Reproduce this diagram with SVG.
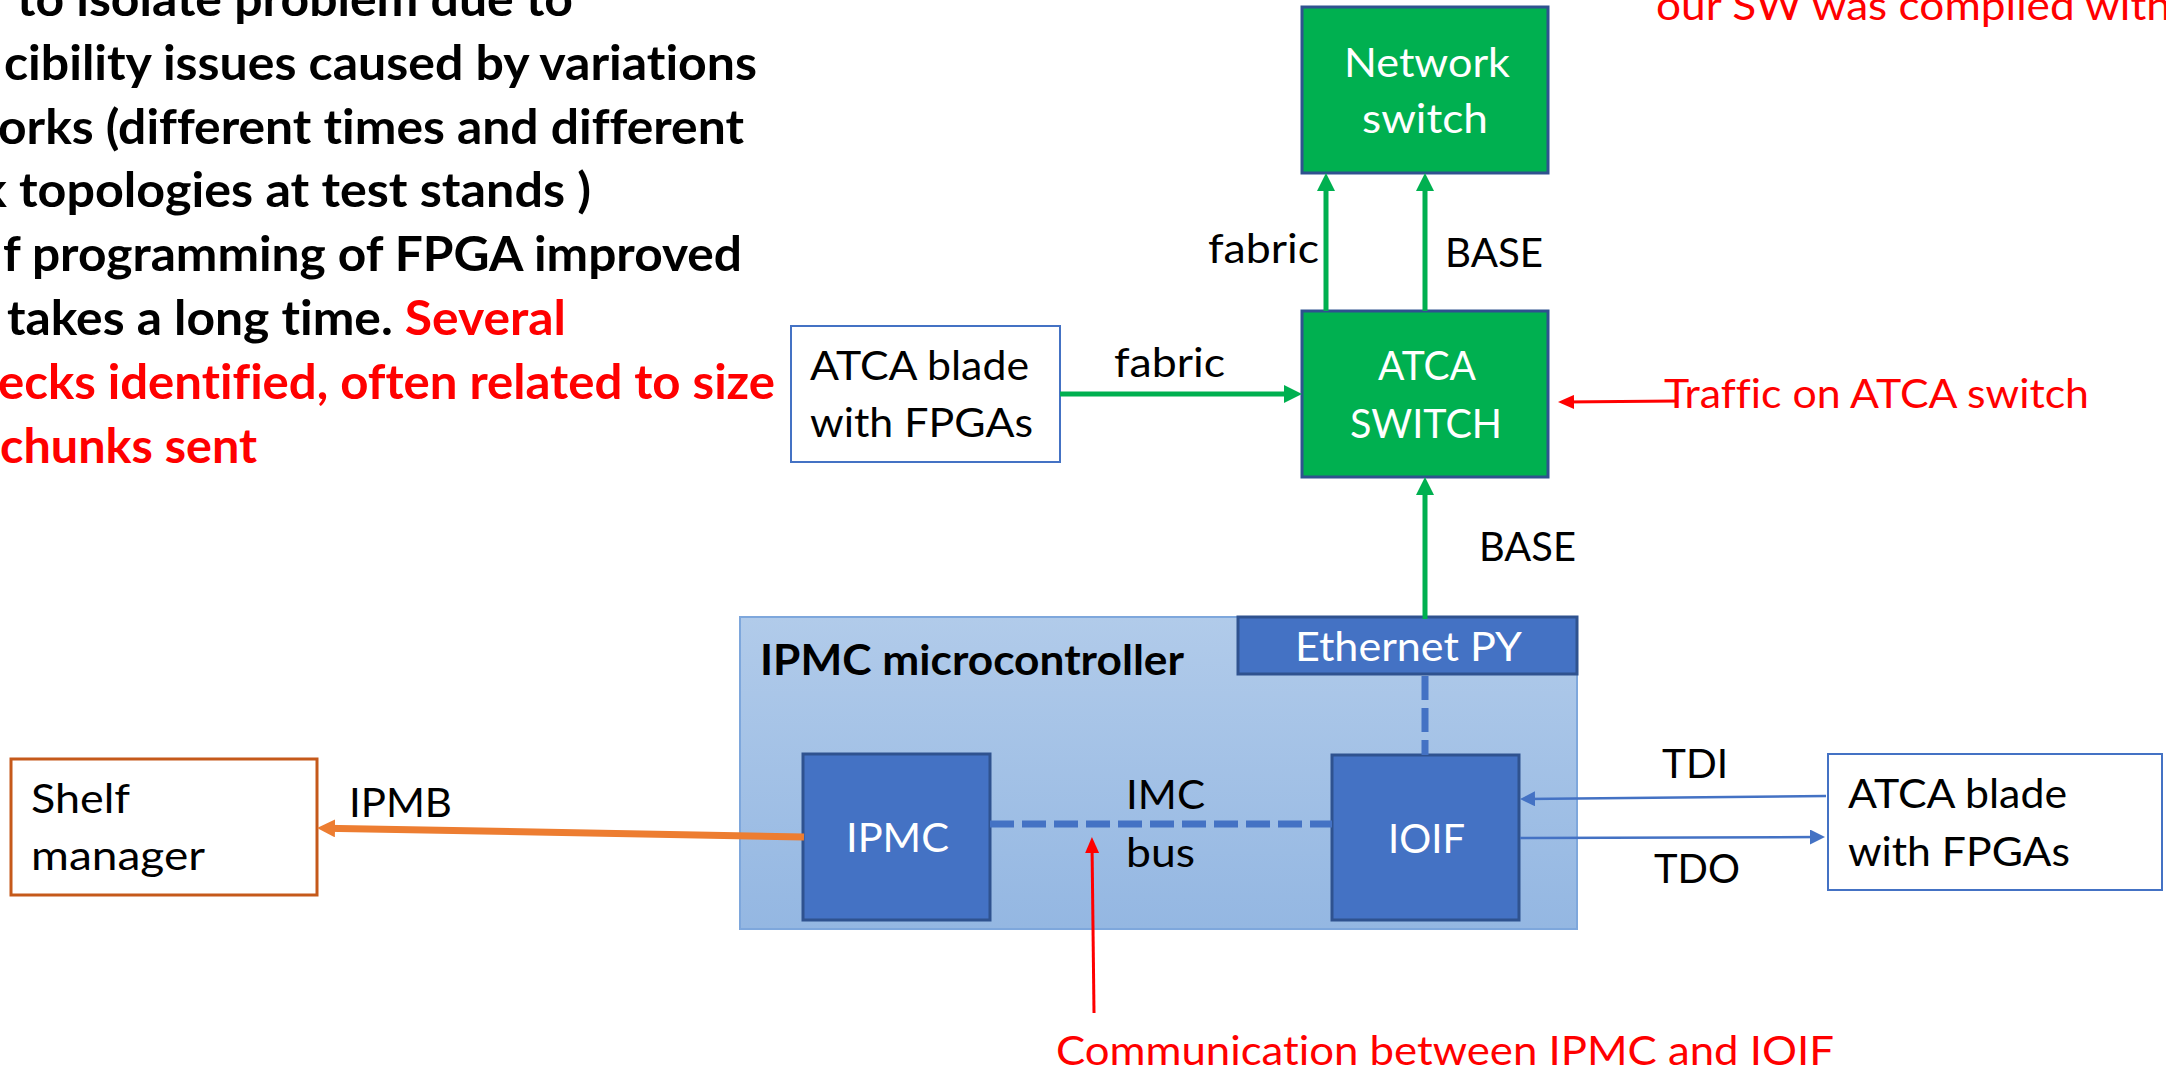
<svg xmlns="http://www.w3.org/2000/svg" width="2166" height="1072" viewBox="0 0 2166 1072">
<style>
text{font-family:Lato,"Liberation Sans",sans-serif;font-size:41px;fill:#000;font-variant-ligatures:none}
.b{font-weight:bold;font-size:47px}
.w{fill:#fff}
.r{fill:#ff0000}
.green{fill:#00b050;stroke:#2f528f;stroke-width:3}
.blue{fill:#4472c4;stroke:#2f528f;stroke-width:3}
.blade{fill:#fff;stroke:#4472c4;stroke-width:2}
.gl{stroke:#00b050;stroke-width:5;fill:none}
.bl{stroke:#4472c4;stroke-width:2.5;fill:none}
.dash{stroke:#4472c4;stroke-width:7;stroke-dasharray:24 8;fill:none}
.rl{stroke:#ff0000;stroke-width:3;fill:none}
</style>
<defs>
<linearGradient id="cg" x1="0" y1="0" x2="0" y2="1">
<stop offset="0" stop-color="#b1cbea"/>
<stop offset="1" stop-color="#94b7e2"/>
</linearGradient>
<marker id="mg" viewBox="0 0 18 18" refX="10" refY="9" markerWidth="18" markerHeight="18" markerUnits="userSpaceOnUse" orient="auto"><path d="M0,0 L18,9 L0,18 z" fill="#00b050"/></marker>
<marker id="mo" viewBox="0 0 18 18" refX="10" refY="9" markerWidth="18" markerHeight="18" markerUnits="userSpaceOnUse" orient="auto"><path d="M0,0 L18,9 L0,18 z" fill="#ed7d31"/></marker>
<marker id="mb" viewBox="0 0 15 15" refX="9" refY="7.5" markerWidth="15" markerHeight="15" markerUnits="userSpaceOnUse" orient="auto"><path d="M0,0 L15,7.5 L0,15 z" fill="#4472c4"/></marker>
<marker id="mr" viewBox="0 0 16 14" refX="10" refY="7" markerWidth="16" markerHeight="14" markerUnits="userSpaceOnUse" orient="auto"><path d="M0,0 L16,7 L0,14 z" fill="#ff0000"/></marker>
</defs>
<rect width="2166" height="1072" fill="#fff"/>

<g id="notes">
<text class="b" x="17" y="16" textLength="556" lengthAdjust="spacingAndGlyphs">to isolate problem due to</text>
<text class="b" x="4" y="80" textLength="753" lengthAdjust="spacingAndGlyphs">cibility issues caused by variations</text>
<text class="b" x="-2" y="144" textLength="746" lengthAdjust="spacingAndGlyphs">orks (different times and different</text>
<text class="b" x="-20" y="207" textLength="611" lengthAdjust="spacingAndGlyphs">k topologies at test stands )</text>
<text class="b" x="3" y="271" textLength="739" lengthAdjust="spacingAndGlyphs">f programming of FPGA improved</text>
<text class="b" x="7" y="335" textLength="559" lengthAdjust="spacingAndGlyphs">takes a long time. <tspan class="r">Several</tspan></text>
<text class="b r" x="-2" y="399" textLength="777" lengthAdjust="spacingAndGlyphs">ecks identified, often related to size</text>
<text class="b r" x="0" y="463" textLength="257" lengthAdjust="spacingAndGlyphs">chunks sent</text>
<text class="r" x="1656" y="20" textLength="515" lengthAdjust="spacingAndGlyphs">our SW was compiled with</text>
<text class="r" x="1664" y="408" textLength="425" lengthAdjust="spacingAndGlyphs">Traffic on ATCA switch</text>
<text class="r" x="1056" y="1065" textLength="778" lengthAdjust="spacingAndGlyphs">Communication between IPMC and IOIF</text>
</g>

<g id="ipmc-microcontroller">
<rect x="740" y="617" width="837" height="312" fill="url(#cg)" stroke="#7ea7dc" stroke-width="2"/>
<text class="b" style="font-size:42px" x="760" y="675" textLength="424" lengthAdjust="spacingAndGlyphs">IPMC microcontroller</text>
</g>

<g id="network-switch">
<rect class="green" x="1302" y="7" width="246" height="166"/>
<text class="w" x="1344" y="77" textLength="166" lengthAdjust="spacingAndGlyphs">Network</text>
<text class="w" x="1362" y="133" textLength="126" lengthAdjust="spacingAndGlyphs">switch</text>
</g>

<g id="atca-switch">
<rect class="green" x="1302" y="311" width="246" height="166"/>
<text class="w" x="1378" y="380" textLength="98" lengthAdjust="spacingAndGlyphs">ATCA</text>
<text class="w" x="1350" y="438" textLength="152" lengthAdjust="spacingAndGlyphs">SWITCH</text>
</g>

<g id="atca-blade-left">
<rect class="blade" x="791" y="326" width="269" height="136"/>
<text x="810" y="380" textLength="219" lengthAdjust="spacingAndGlyphs">ATCA blade</text>
<text x="810" y="437" textLength="223" lengthAdjust="spacingAndGlyphs">with FPGAs</text>
</g>

<g id="ethernet-py">
<rect class="blue" x="1238" y="617" width="339" height="57"/>
<text class="w" x="1295" y="661" textLength="227" lengthAdjust="spacingAndGlyphs">Ethernet PY</text>
</g>

<g id="ipmc">
<rect class="blue" x="803" y="754" width="187" height="166"/>
<text class="w" x="846" y="852" textLength="103" lengthAdjust="spacingAndGlyphs">IPMC</text>
</g>

<g id="ioif">
<rect class="blue" x="1332" y="755" width="187" height="165"/>
<text class="w" x="1388" y="853" textLength="77" lengthAdjust="spacingAndGlyphs">IOIF</text>
</g>

<g id="shelf-manager">
<rect x="11" y="759" width="306" height="136" fill="#fff" stroke="#c5591a" stroke-width="3"/>
<text x="31" y="813" textLength="99" lengthAdjust="spacingAndGlyphs">Shelf</text>
<text x="31" y="870" textLength="174" lengthAdjust="spacingAndGlyphs">manager</text>
</g>

<g id="atca-blade-right">
<rect class="blade" x="1828" y="754" width="334" height="136"/>
<text x="1848" y="808" textLength="219" lengthAdjust="spacingAndGlyphs">ATCA blade</text>
<text x="1848" y="866" textLength="222" lengthAdjust="spacingAndGlyphs">with FPGAs</text>
</g>

<g id="connectors">
<line class="gl" x1="1326" y1="311" x2="1326" y2="181" marker-end="url(#mg)"/>
<line class="gl" x1="1425" y1="311" x2="1425" y2="181" marker-end="url(#mg)"/>
<line class="gl" x1="1425" y1="619" x2="1425" y2="485" marker-end="url(#mg)"/>
<line class="gl" x1="1060" y1="394" x2="1294" y2="394" marker-end="url(#mg)"/>
<line x1="804" y1="837" x2="325" y2="828.15" stroke="#ed7d31" stroke-width="7" marker-end="url(#mo)"/>
<line class="dash" x1="990" y1="824" x2="1332" y2="824"/>
<line class="dash" x1="1425" y1="676" x2="1425" y2="755"/>
<line class="bl" x1="1826" y1="796" x2="1526" y2="798.9" marker-end="url(#mb)"/>
<line class="bl" x1="1520" y1="838" x2="1819" y2="837" marker-end="url(#mb)"/>
<line class="rl" x1="1677" y1="401" x2="1564" y2="402" marker-end="url(#mr)"/>
<line class="rl" x1="1094" y1="1013" x2="1092" y2="843" marker-end="url(#mr)"/>
<text x="1208" y="263" textLength="111" lengthAdjust="spacingAndGlyphs">fabric</text>
<text x="1445" y="267" textLength="98" lengthAdjust="spacingAndGlyphs">BASE</text>
<text x="1114" y="377" textLength="111" lengthAdjust="spacingAndGlyphs">fabric</text>
<text x="1479" y="561" textLength="97" lengthAdjust="spacingAndGlyphs">BASE</text>
<text x="1126" y="809" textLength="79" lengthAdjust="spacingAndGlyphs">IMC</text>
<text x="1126" y="867" textLength="69" lengthAdjust="spacingAndGlyphs">bus</text>
<text x="349" y="817" textLength="103" lengthAdjust="spacingAndGlyphs">IPMB</text>
<text x="1662" y="778" textLength="66" lengthAdjust="spacingAndGlyphs">TDI</text>
<text x="1654" y="883" textLength="86" lengthAdjust="spacingAndGlyphs">TDO</text>
</g>
</svg>
